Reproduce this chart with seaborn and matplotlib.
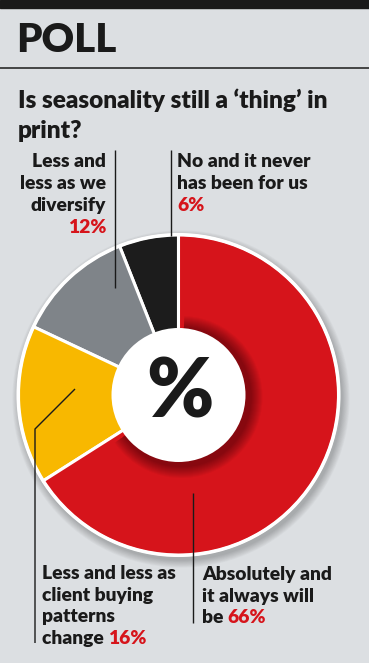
import matplotlib
matplotlib.use("Agg")
import matplotlib.pyplot as plt
import seaborn as sns
from matplotlib import font_manager
from matplotlib.patches import Circle, Rectangle, Wedge

# ---------------- data ----------------
categories = ["No and it never has been for us",
              "Less and less as we diversify",
              "Less and less as client buying patterns change",
              "Absolutely and it always will be"]
values = [6, 12, 16, 66]
slice_colors = ["#1c1c1c", "#7f8489", "#f8b800", "#d6141b"]
label_lines = [["No and it never", "has been for us", ""],
               ["Less and", "less as we", "diversify", ""],
               ["Less and less as", "client buying", "patterns", "change "],
               ["Absolutely and", "it always will", "be "]]
pct_labels = [f"{v}%" for v in values]
title = "POLL"
question = ["Is seasonality still a \u2018thing\u2019 in", "print?"]
center_symbol = "%"

# ---------------- style ----------------
BG = "#dcdfe2"
INK = "#1a1a1a"
RED = "#d6141b"
W, H = 369, 663

sns.set_theme(style="white", rc={"figure.facecolor": BG, "axes.facecolor": BG})

installed = {f.name for f in font_manager.fontManager.ttflist}
def pick(*names):
    for n in names:
        if n in installed:
            return n
    return "DejaVu Sans"

HEAVY = pick("Lato", "Roboto", "Open Sans", "DejaVu Sans")
plt.rcParams["font.family"] = [HEAVY, "DejaVu Sans"]

fig = plt.figure(figsize=(W / 100, H / 100), dpi=100)
ax = fig.add_axes([0, 0, 1, 1])
ax.set_xlim(0, W)
ax.set_ylim(0, H)
renderer = fig.canvas.get_renderer()

def Y(py):
    return H - py

def fit(t, target):
    w = t.get_window_extent(renderer).width
    t.set_fontsize(t.get_fontsize() * target / w)
    return t

# ---------------- pie ----------------
cx, cy, R, r_in = 178.5, Y(395), 160, 67

for k in range(10):
    ax.add_patch(Circle((cx + 2.5, cy - 4), R + 1.5 + k * 0.8, color="#000000",
                        alpha=0.025, lw=0, zorder=1))

wedges, _ = ax.pie(values, colors=slice_colors, startangle=90, counterclock=True,
                   center=(cx, cy), radius=R,
                   wedgeprops=dict(edgecolor="white", linewidth=2.2, zorder=3))
ax.set_xlim(0, W)
ax.set_ylim(0, H)
ax.set_aspect("auto")
ax.add_patch(Circle((cx, cy), R + 0.5, fill=False, ec="white", lw=2.2, zorder=4))

red_w = wedges[-1]
for k in range(12):
    ax.add_patch(Wedge((cx + 3, cy - 2), r_in + 14 - k, red_w.theta1 + 2, red_w.theta2 - 2,
                       color="#000000", alpha=0.035, lw=0, zorder=4))
ax.add_patch(Circle((cx, cy), r_in, color="white", lw=0, zorder=5))
ax.text(cx + 1, cy + 1, center_symbol, fontsize=58, fontweight="heavy", color=INK,
        ha="center", va="center", zorder=6)

# ---------------- header ----------------
ax.add_patch(Rectangle((0, Y(8)), W, 8, color=INK, zorder=1))
ax.plot([0, W], [Y(68), Y(68)], color=INK, lw=1.1, zorder=1)
t_title = ax.text(16, Y(52), title, fontsize=30, fontweight="heavy",
                  color=INK, ha="left", va="baseline")
fit(t_title, 100)

q1 = ax.text(18, Y(108), question[0], fontsize=16, fontweight="heavy", color=INK,
             ha="left", va="baseline")
fit(q1, 310)
ax.text(18, Y(138), question[1], fontsize=q1.get_fontsize(), fontweight="heavy", color=INK,
        ha="left", va="baseline")

# ---------------- leader lines ----------------
lk = dict(color=INK, lw=1.0, zorder=7, solid_capstyle="butt")
ax.plot([115, 115], [Y(150), Y(288)], **lk)
ax.plot([171, 171], [Y(150), Y(236)], **lk)
ax.plot([75, 35, 35], [Y(389), Y(429), Y(643)], **lk)
ax.plot([193, 193], [Y(493), Y(623)], **lk)

# ---------------- labels ----------------
probe = ax.text(0, 0, label_lines[0][0], fontsize=12, fontweight="heavy")
fit(probe, 133)
LFS = probe.get_fontsize()
probe.remove()
inv = ax.transData.inverted()

def label(idx, x, baselines, ha):
    lines = label_lines[idx]
    for i, (line, b) in enumerate(zip(lines, baselines)):
        last = i == len(lines) - 1
        if not last:
            ax.text(x, Y(b), line, fontsize=LFS, fontweight="heavy", color=INK,
                    ha=ha, va="baseline", zorder=8)
        elif line == "":
            ax.text(x, Y(b), pct_labels[idx], fontsize=LFS, fontweight="heavy", color=RED,
                    ha=ha, va="baseline", zorder=8)
        else:
            t = ax.text(x, Y(b), line, fontsize=LFS, fontweight="heavy", color=INK,
                        ha="left", va="baseline", zorder=8)
            ext = t.get_window_extent(renderer)
            x1 = inv.transform((ext.x1, ext.y0))[0]
            ax.text(x1, Y(b), pct_labels[idx], fontsize=LFS, fontweight="heavy", color=RED,
                    ha="left", va="baseline", zorder=8)

label(0, 177, [167, 189, 211], "left")
label(1, 106, [167, 189, 211, 233], "right")
label(2, 42, [579, 601, 622, 644], "left")
label(3, 202, [580, 602, 623], "left")

ax.axis("off")
fig.savefig("out.png", dpi=100, facecolor=BG)
